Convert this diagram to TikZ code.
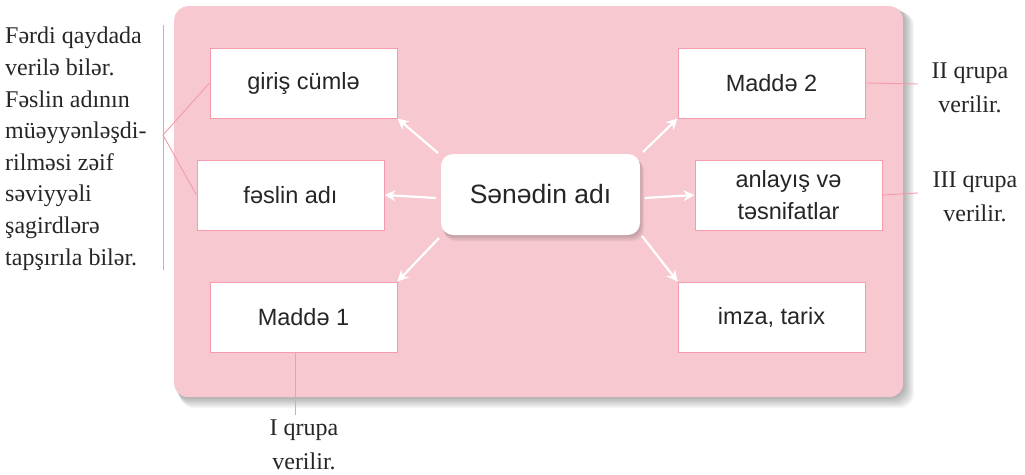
\documentclass[tikz,border=0pt]{standalone}
\usepackage{fontspec}
\setmainfont{Liberation Serif}
\newfontfamily\boxfont{Liberation Sans}
\usetikzlibrary{shadows,arrows.meta}
\definecolor{panelpink}{HTML}{F7C8D0}
\definecolor{edgepink}{HTML}{F49BAE}
\tikzset{
  itembox/.style={draw=edgepink,line width=1pt,fill=white,minimum width=187pt,minimum height=70pt,inner sep=0pt,font=\boxfont\fontsize{23.5}{27}\selectfont,align=center,text=black!85},
  whitearrow/.style={draw=white,line width=2.2pt,-{Stealth[length=11pt,width=11pt]}},
  noteline/.style={draw=edgepink,line width=0.9pt},
  notetext/.style={font=\fontsize{24}{34}\selectfont,align=center,inner sep=0pt,text=black!85}
}
\begin{document}
\begin{tikzpicture}[x=1pt,y=-1pt]
\useasboundingbox (0,0) rectangle (1025,474);
% soft shadow of panel
\foreach \d in {1,2,...,10}{
  \fill[black,opacity=0.035,rounded corners=14pt] (174+\d*0.6,6+\d*0.6) rectangle (903+\d*1.1,397+\d*1.1);
}
% panel
\node[fill=panelpink,rounded corners=14pt,minimum width=729pt,minimum height=391pt,inner sep=0pt,anchor=north west] (panel) at (174,6) {};
% boxes
\node[itembox] (giris) at (303.5,83) {giriş cümlə};
\node[itembox] (fesil) at (290.5,195) {fəslin adı};
\node[itembox] (madde1) at (303.5,317) {Maddə 1};
\node[itembox] (madde2) at (771.5,83) {Maddə 2};
\node[itembox,font=\boxfont\fontsize{23.5}{32}\selectfont] (anlayis) at (788.5,195) {anlayış və\\təsnifatlar};
\node[itembox] (imza) at (771.5,317) {imza, tarix};
% center
\foreach \d in {1,2,...,6}{
  \fill[black,opacity=0.035,rounded corners=12pt] (441+\d*0.5,154+\d*0.9) rectangle (640+\d*0.7,235+\d*1.1);
}
\node[fill=white,rounded corners=12pt,minimum width=199pt,minimum height=81pt,inner sep=0pt,
  font=\boxfont\fontsize{26.5}{30}\selectfont,text=black!85] (center) at (540.5,194.5) {Sənədin adı};
% arrows
\coordinate (c1) at (438,153);
\coordinate (c2) at (436,198);
\coordinate (c3) at (439,238);
\coordinate (c4) at (643,152);
\coordinate (c5) at (645,198);
\coordinate (c6) at (642,236);
\draw[whitearrow] (c1) -- (giris.south east);
\draw[whitearrow] (c2) -- (fesil.east);
\draw[whitearrow] (c3) -- (madde1.north east);
\draw[whitearrow] (c4) -- (madde2.south west);
\draw[whitearrow] (c5) -- (anlayis.west);
\draw[whitearrow] (c6) -- (imza.north west);
% left note
\coordinate (vtop) at (163,25);
\coordinate (vbot) at (163,270);
\coordinate (vmid) at (163,135);
\draw[noteline] (vtop) -- (vbot);
\draw[noteline] (giris.west) -- (vmid) -- (fesil.west);
\node[notetext,font=\fontsize{24}{31.6}\selectfont,align=left,anchor=north west] (leftnote) at (5,27) {Fərdi qaydada\\verilə bilər.\\Fəslin adının\\müəyyənləşdi-\\rilməsi zəif\\səviyyəli\\şagirdlərə\\tapşırıla bilər.};
% right notes
\coordinate (r1) at (918,84);
\coordinate (r2) at (918,193);
\draw[noteline] (madde2.east) -- (r1);
\draw[noteline] (anlayis.east) -- (r2);
\node[notetext] (note2) at (970,88) {II qrupa\\verilir.};
\node[notetext] (note3) at (975,197) {III qrupa\\verilir.};
% bottom note
\coordinate (b1) at (295,415);
\draw[noteline] (madde1.south -| b1) -- (b1);
\node[notetext] (note1) at (304,445) {I qrupa\\verilir.};
\end{tikzpicture}
\end{document}
